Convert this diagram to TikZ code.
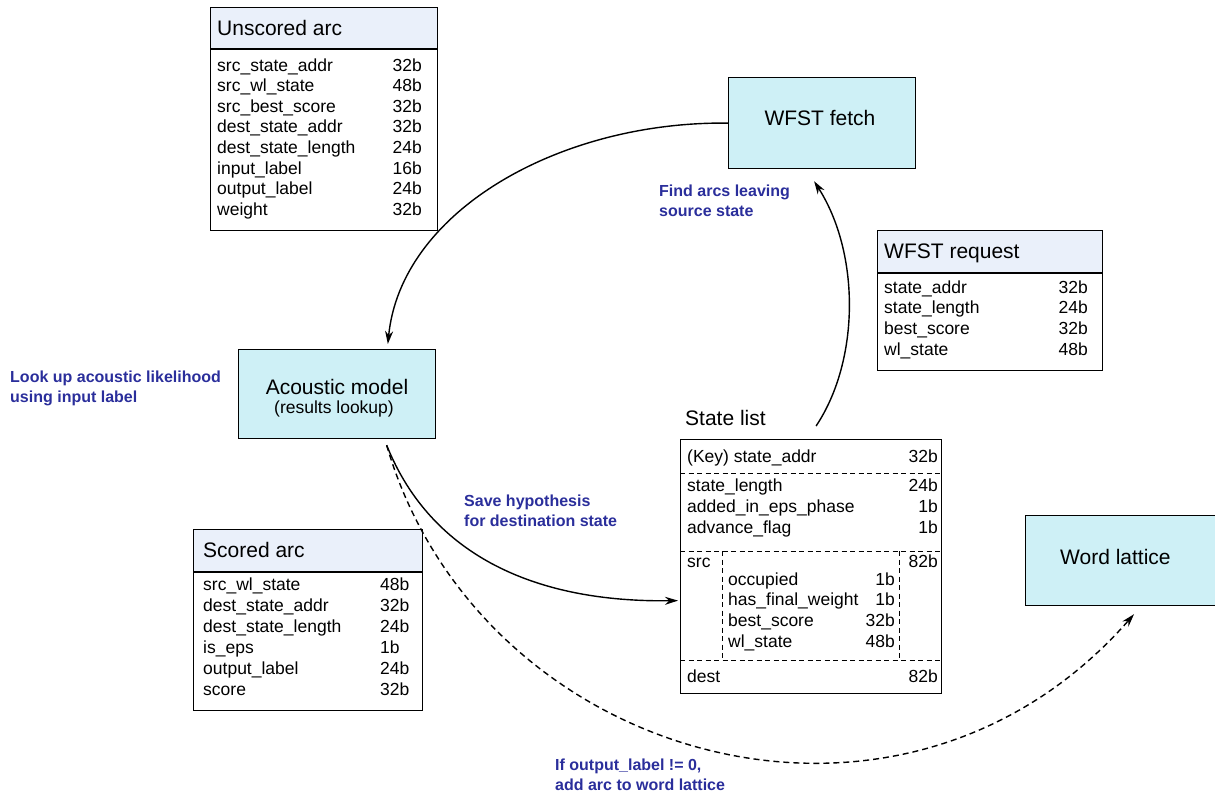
\documentclass[tikz,border=0pt]{standalone}
\usepackage{fontspec}
\setmainfont{Liberation Sans}
\usetikzlibrary{arrows.meta,calc}
\definecolor{boxcyan}{RGB}{206,240,246}
\definecolor{headfill}{RGB}{234,240,250}
\definecolor{notecol}{RGB}{42,46,155}
\begin{document}
\begin{tikzpicture}[x=1pt,y=-1pt,
  cell/.style={inner sep=0pt, anchor=base west, font=\fontsize{17.5}{21}\selectfont},
  val/.style={inner sep=0pt, anchor=base east, font=\fontsize{17.5}{21}\selectfont},
  vall/.style={inner sep=0pt, anchor=base west, font=\fontsize{17.5}{21}\selectfont},
  head/.style={inner sep=0pt, anchor=base west, font=\fontsize{21}{25}\selectfont},
  big/.style={inner sep=0pt, font=\fontsize{21}{25}\selectfont},
  note/.style={inner sep=0pt, anchor=base west, text=notecol, font=\bfseries\fontsize{16}{20}\selectfont},
  frame/.style={draw, line width=1.2pt, inner sep=0pt, anchor=north west},
  procbox/.style={draw, line width=1.2pt, fill=boxcyan, inner sep=0pt, anchor=north west},
  rule/.style={line width=1.2pt},
  dashrule/.style={line width=1pt, dash pattern=on 5pt off 3.5pt},
  flow/.style={line width=1.4pt, -{Stealth[length=13pt,width=8pt]}},
  dflow/.style={line width=1.4pt, dash pattern=on 6pt off 4pt, -{Stealth[length=13pt,width=8pt]}},
]
\useasboundingbox (0,0) rectangle (1215,796);

% ---------- Unscored arc ----------
\fill[headfill] (210,7) rectangle (437,49);
\node[frame, minimum width=227pt, minimum height=223pt] (ua) at (210,7) {};
\draw[rule] (210,49) -- (437,49);
\node[head] (ua-t) at (217,35) {Unscored arc};
\foreach \n/\v [count=\i] in {src\_state\_addr/32b, src\_wl\_state/48b,
    src\_best\_score/32b, dest\_state\_addr/32b, dest\_state\_length/24b,
    input\_label/16b, output\_label/24b, weight/32b} {
  \node[cell] (ua-n\i) at (217,{71+20.6*(\i-1)}) {\n};
  \node[val]  (ua-v\i) at (422,{71+20.6*(\i-1)}) {\v};
}

% ---------- WFST fetch ----------
\node[procbox, minimum width=187pt, minimum height=91pt] (fetch) at (728,77) {};
\node[big, anchor=base] (fetch-t) at (820,125) {WFST fetch};
\node[note] (n1a) at (659,196) {Find arcs leaving};
\node[note] (n1b) at (659,216) {source state};

% ---------- WFST request ----------
\fill[headfill] (877,230) rectangle (1102,273);
\node[frame, minimum width=225pt, minimum height=140pt] (req) at (877,230) {};
\draw[rule] (877,273) -- (1102,273);
\node[head] (req-t) at (884,258) {WFST request};
\foreach \n/\v [count=\i] in {state\_addr/32b, state\_length/24b,
    best\_score/32b, wl\_state/48b} {
  \node[cell] (req-n\i) at (884,{293+20.7*(\i-1)}) {\n};
  \node[val]  (req-v\i) at (1088,{293+20.7*(\i-1)}) {\v};
}

% ---------- Acoustic model ----------
\node[procbox, minimum width=197pt, minimum height=89pt] (am) at (238,349) {};
\node[big, anchor=base, font=\fontsize{21}{24}\selectfont] (am-t) at (337,394) {Acoustic model};
\node[inner sep=0pt, anchor=base, font=\fontsize{17.5}{21}\selectfont] (am-s) at (334,413) {(results lookup)};
\node[note] (n2a) at (10,382) {Look up acoustic likelihood};
\node[note] (n2b) at (10,402) {using input label};

% ---------- State list ----------
\node[head] (sl-t) at (685,425) {State list};
\node[frame, minimum width=261pt, minimum height=254pt] (sl) at (680,439) {};
\node[cell] (sl-k) at (687,462) {(Key) state\_addr};
\node[val]  (sl-kv) at (938,462) {32b};
\draw[dashrule] (680,473) -- (941,473);
\foreach \n/\v [count=\i] in {state\_length/24b, added\_in\_eps\_phase/1b, advance\_flag/1b} {
  \node[cell] (sl-n\i) at (687,{491+21*(\i-1)}) {\n};
  \node[val]  (sl-v\i) at (938,{491+21*(\i-1)}) {\v};
}
\draw[dashrule] (680,551) -- (941,551);
\node[cell] (sl-src) at (687,567) {src};
\node[val]  (sl-srcv) at (938,567) {82b};
\draw[dashrule] (722,551) -- (722,660);
\draw[dashrule] (899,551) -- (899,660);
\foreach \n/\v [count=\i] in {occupied/1b, has\_final\_weight/1b, best\_score/32b, wl\_state/48b} {
  \node[cell] (sl-s\i) at (728,{585+20.7*(\i-1)}) {\n};
  \node[val]  (sl-w\i) at (895,{585+20.7*(\i-1)}) {\v};
}
\draw[dashrule] (680,660) -- (941,660);
\node[cell] (sl-d) at (687,682) {dest};
\node[val]  (sl-dv) at (938,682) {82b};

% ---------- Scored arc ----------
\fill[headfill] (193,529) rectangle (422,572);
\node[frame, minimum width=229pt, minimum height=181pt] (sa) at (193,529) {};
\draw[rule] (193,572) -- (422,572);
\node[head] (sa-t) at (203,557) {Scored arc};
\foreach \n/\v [count=\i] in {src\_wl\_state/48b, dest\_state\_addr/32b,
    dest\_state\_length/24b, is\_eps/1b, output\_label/24b, score/32b} {
  \node[cell] (sa-n\i) at (203,{590+21*(\i-1)}) {\n};
  \node[vall] (sa-v\i) at (380,{590+21*(\i-1)}) {\v};
}
\node[note] (n3a) at (464,506) {Save hypothesis};
\node[note] (n3b) at (464,526) {for destination state};

% ---------- Word lattice ----------
\node[procbox, minimum width=192pt, minimum height=90pt] (wl) at (1025,515) {};
\node[big, anchor=base west] (wl-t) at (1060,564) {Word lattice};
\node[note] (n4a) at (555,770) {If output\_label != 0,};
\node[note] (n4b) at (555,790) {add arc to word lattice};

% ---------- Connectors ----------
\coordinate (amIn)    at ($(am.north west)!0.756!(am.north east)+(0,-5)$);
\coordinate (amOut)   at ($(am.south west)!0.75!(am.south east)+(0,6)$);
\coordinate (slOut)   at ($(sl.north west)!0.519!(sl.north east)+(0,-13)$);
\coordinate (fetchIn) at ($(fetch.south)+(-8,12)$);
\coordinate (slIn)    at ($(sl.west)+(-2,34)$);
\coordinate (wlIn)    at ($(wl.south west)+(109,8)$);

\draw[flow] (fetch.west) .. controls +(-168,-2) and +(13,-133) .. (amIn);
\draw[flow] (slOut) .. controls +(44,-66) and +(46,72) .. (fetchIn);
\draw[flow] (amOut) .. controls +(45,112) and +(-140,2) .. (slIn);
\draw[dflow] (amOut) .. controls +(92,316) and +(-235,268) .. (wlIn);
\end{tikzpicture}
\end{document}
